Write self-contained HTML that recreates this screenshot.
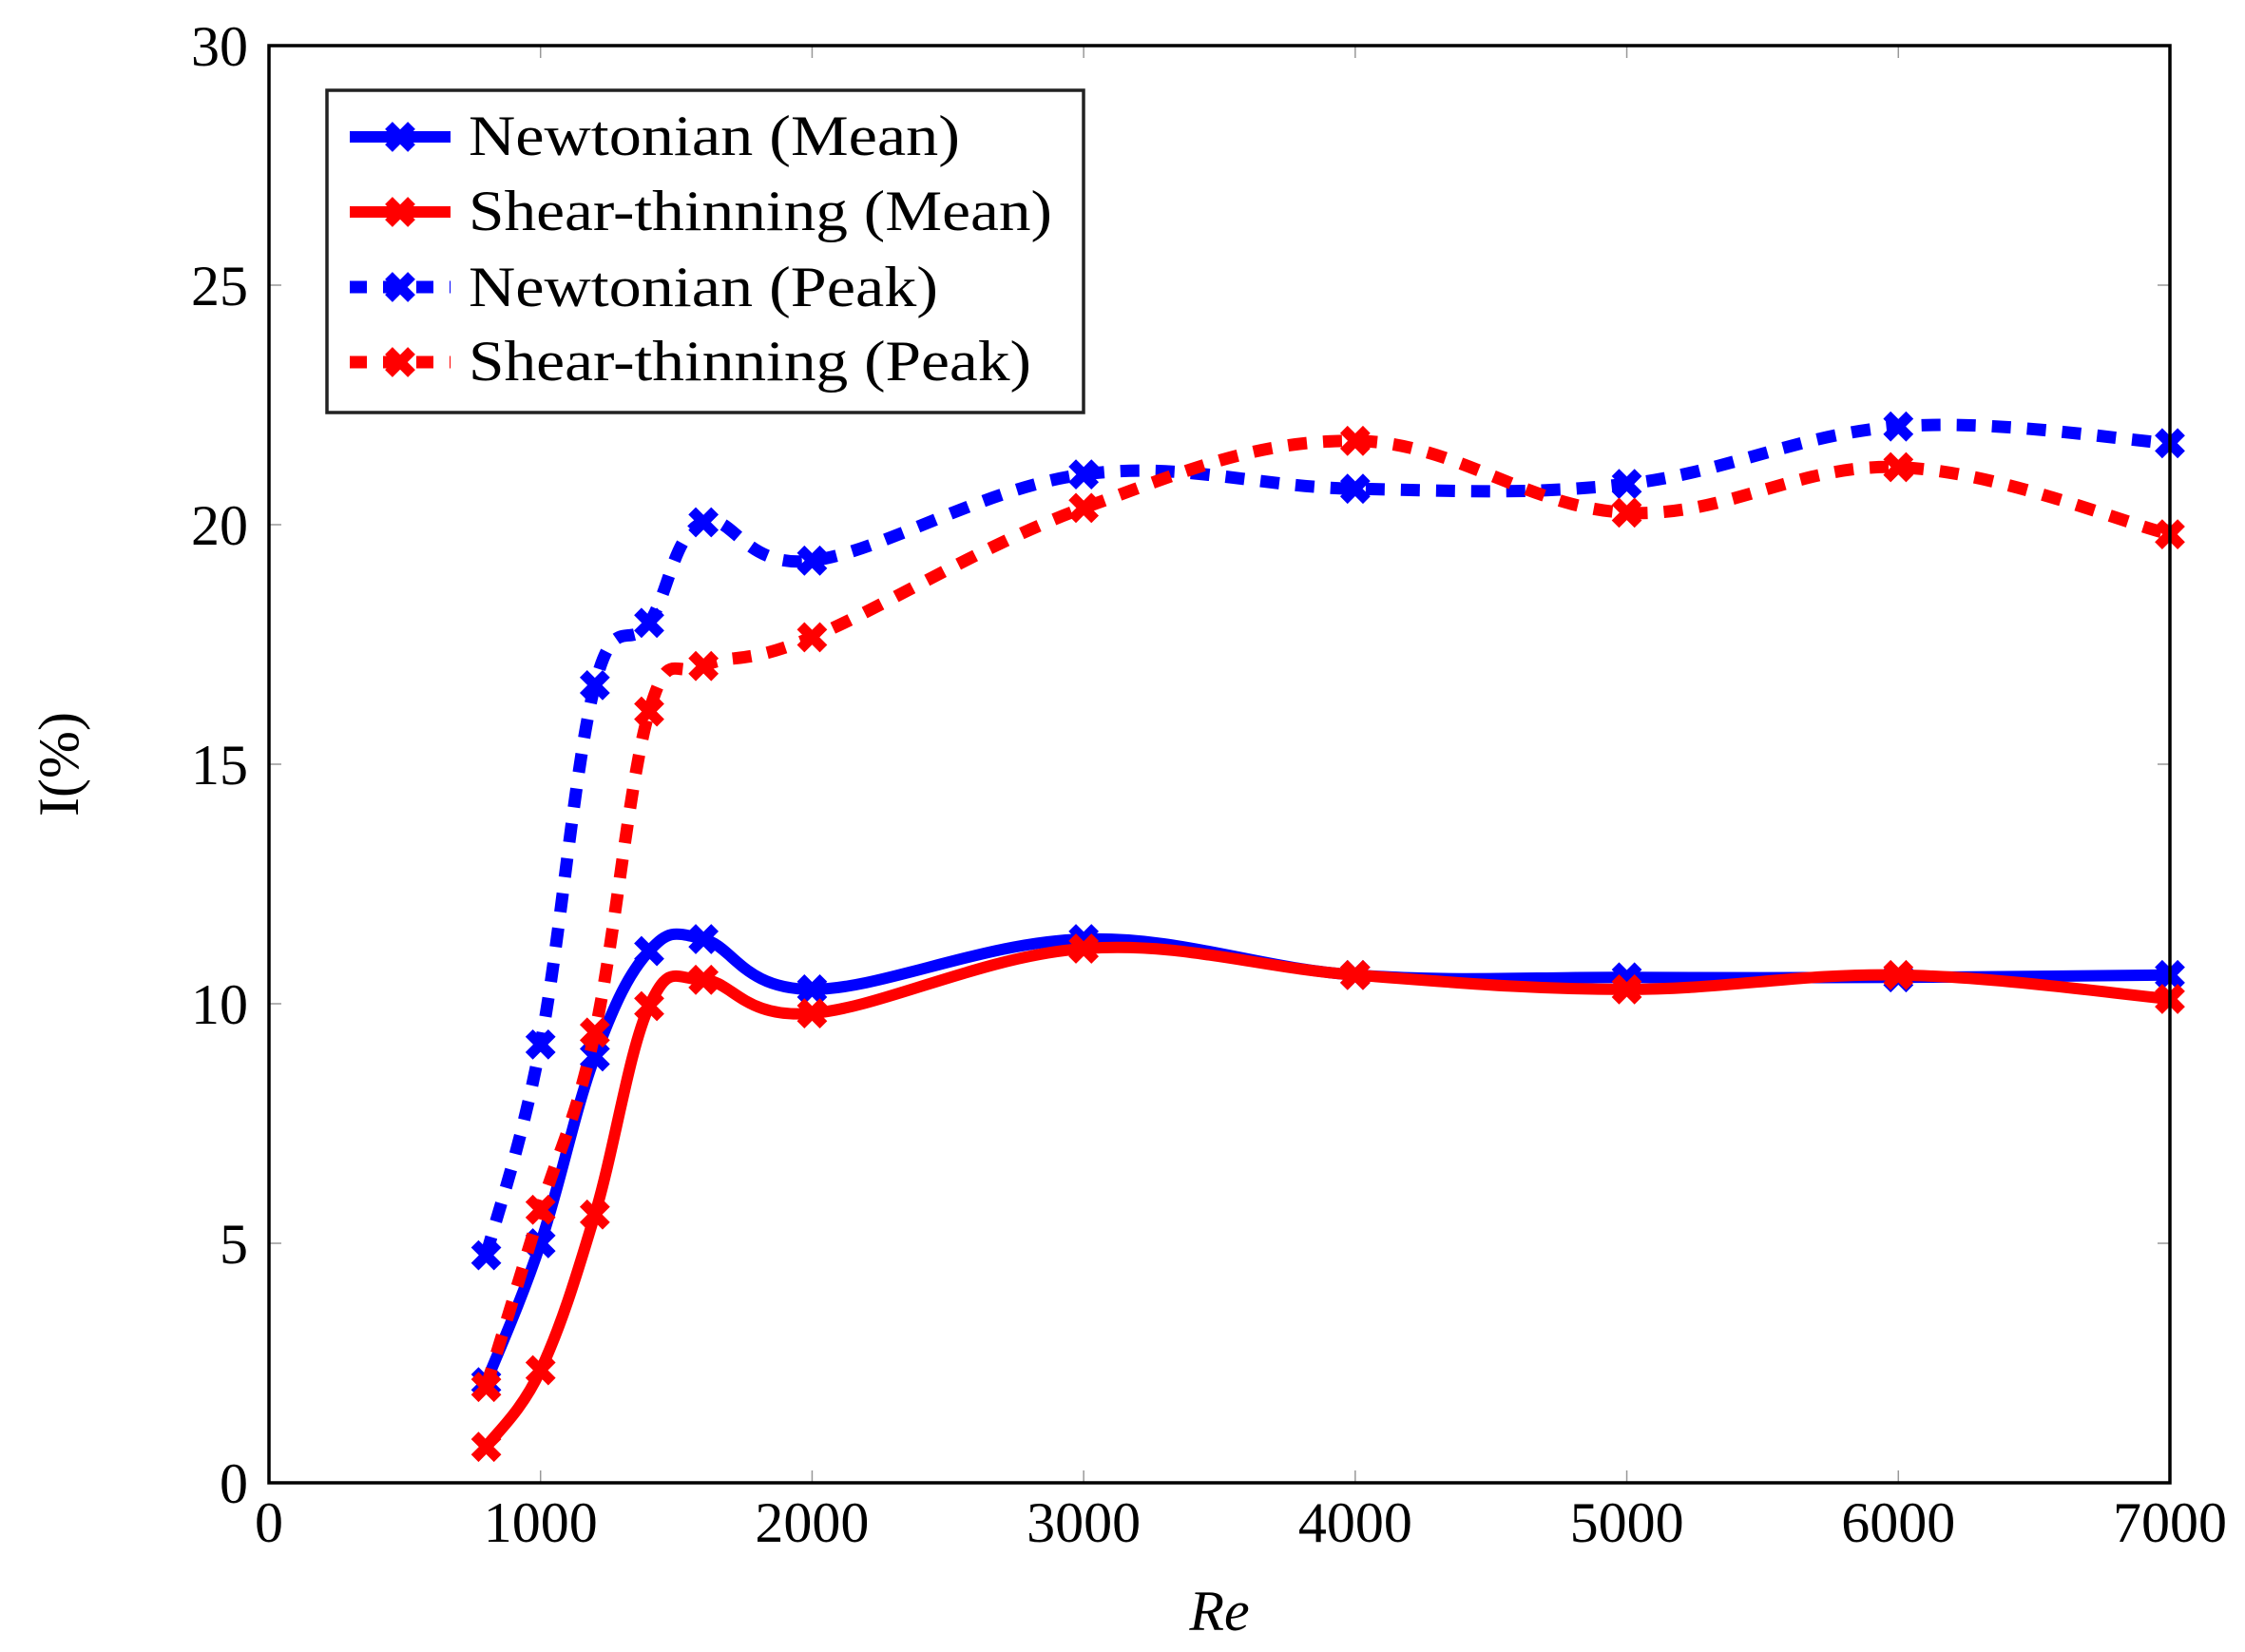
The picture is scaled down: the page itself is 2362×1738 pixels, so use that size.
<!DOCTYPE html>
<html><head><meta charset="utf-8"><style>
html,body{margin:0;padding:0;background:#fff;}
svg{display:block;}
text{font-family:"Liberation Serif",serif;fill:#000;}
</style></head><body>
<svg id="s" width="2362" height="1738" viewBox="0 0 2362 1738" xmlns="http://www.w3.org/2000/svg">
<g id="ticks" stroke="#999" stroke-width="1.5"></g>
<g id="series"></g>
<rect x="283" y="48" width="2000" height="1512" fill="none" stroke="#000" stroke-width="3.5"/>
<g id="labels" font-size="60"></g>
<text x="1283" y="1715" font-size="60" font-style="italic" text-anchor="middle">Re</text>
<text transform="translate(82,804) rotate(-90)" font-size="60" text-anchor="middle">I(%)</text>
<g id="legend">
<rect x="344" y="95" width="796" height="339" fill="#fff" stroke="#222" stroke-width="3.5"/>
<text x="493" y="163" font-size="60" textLength="517" lengthAdjust="spacingAndGlyphs">Newtonian (Mean)</text>
<text x="493" y="242" font-size="60" textLength="614" lengthAdjust="spacingAndGlyphs">Shear-thinning (Mean)</text>
<text x="493" y="322" font-size="60" textLength="494" lengthAdjust="spacingAndGlyphs">Newtonian (Peak)</text>
<text x="493" y="400" font-size="60" textLength="592" lengthAdjust="spacingAndGlyphs">Shear-thinning (Peak)</text>
</g>
</svg>
<script>
var NS="http://www.w3.org/2000/svg";
function X(v){return 283+v*2000/7000;}
function Y(v){return 1560-v*1512/30;}
function el(p,tag,a){var e=document.createElementNS(NS,tag);for(var k in a)e.setAttribute(k,a[k]);p.appendChild(e);return e;}
var ticks=document.getElementById('ticks'),labels=document.getElementById('labels');
for(var i=0;i<=7;i++){var x=X(i*1000);
 if(i>0&&i<7){el(ticks,'line',{x1:x,y1:1560,x2:x,y2:1547});el(ticks,'line',{x1:x,y1:48,x2:x,y2:61});}
 var t=el(labels,'text',{x:x,y:1622,'text-anchor':'middle'});t.textContent=i*1000;}
for(var j=0;j<=6;j++){var y=Y(j*5);
 if(j>0&&j<6){el(ticks,'line',{x1:283,y1:y,x2:296,y2:y});el(ticks,'line',{x1:2283,y1:y,x2:2270,y2:y});}
 var t=el(labels,'text',{x:261,y:y+21,'text-anchor':'end'});t.textContent=j*5;}
var xs=[800,1000,1200,1400,1600,2000,3000,4000,5000,6000,7000];
var S=[
 {c:'#00f',d:false,v:[2.1,5.0,8.9,11.1,11.35,10.3,11.35,10.6,10.55,10.55,10.6]},
 {c:'#f00',d:false,v:[0.75,2.35,5.6,9.95,10.5,9.8,11.15,10.6,10.3,10.6,10.1]},
 {c:'#00f',d:true,v:[4.75,9.15,16.65,17.95,20.05,19.25,21.05,20.75,20.85,22.05,21.7]},
 {c:'#f00',d:true,v:[2.0,5.7,9.4,16.1,17.05,17.65,20.35,21.75,20.25,21.2,19.8]}];
var g=document.getElementById('series');
function path(p){var k=0.55/3,d='M'+p[0][0]+','+p[0][1];
 for(var i=0;i<p.length-1;i++){var p0=p[i-1]||p[i],p1=p[i],p2=p[i+1],p3=p[i+2]||p[i+1];
  var c1=[p1[0]+(p2[0]-p0[0])*k,p1[1]+(p2[1]-p0[1])*k],c2=[p2[0]-(p3[0]-p1[0])*k,p2[1]-(p3[1]-p1[1])*k];
  d+=' C'+c1[0]+','+c1[1]+' '+c2[0]+','+c2[1]+' '+p2[0]+','+p2[1];}
 return d;}
function mark(p,x,y,c){var r=12;el(p,'path',{d:'M'+(x-r)+','+(y-r)+'L'+(x+r)+','+(y+r)+'M'+(x-r)+','+(y+r)+'L'+(x+r)+','+(y-r),stroke:c,'stroke-width':11,fill:'none'});}
S.forEach(function(s){var pts=xs.map(function(x,i){return [X(x),Y(s.v[i])];});
 var a={d:path(pts),stroke:s.c,'stroke-width':s.d?13:12,fill:'none','stroke-linejoin':'round'};
 if(s.d)a['stroke-dasharray']='20 17';
 el(g,'path',a);pts.forEach(function(p){mark(g,p[0],p[1],s.c);});});
var lg=document.getElementById('legend');
var ly=[144,223,302,381];
S.forEach(function(s,i){var a={x1:368,y1:ly[i],x2:474,y2:ly[i],stroke:s.c,'stroke-width':s.d?13:12};
 if(s.d)a['stroke-dasharray']='18 17';el(lg,'line',a);mark(lg,421,ly[i],s.c);});
</script>
</body></html>
